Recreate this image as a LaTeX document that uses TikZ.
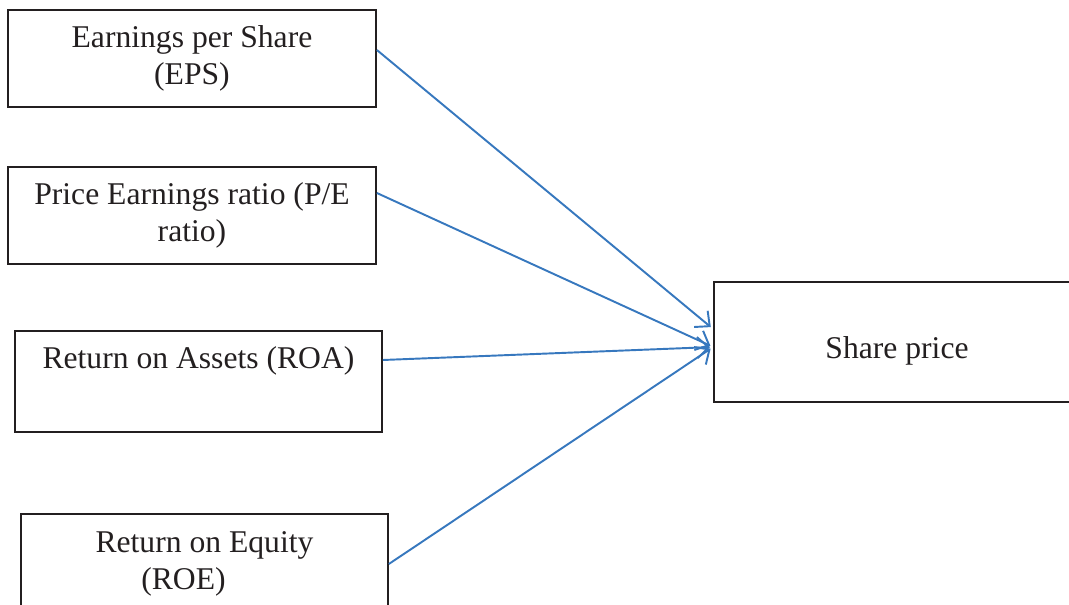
\documentclass[tikz,border=0pt]{standalone}
\usepackage{fontspec}
\setmainfont{Liberation Serif}
\usetikzlibrary{arrows.meta}
\definecolor{LinkBlue}{RGB}{55,120,190}
\definecolor{BoxLine}{RGB}{35,31,32}

\begin{document}
\begin{tikzpicture}[
    ratiobox/.style={draw=BoxLine, line width=1pt, minimum width=7.36cm, minimum height=1.94cm,
                     align=center, inner sep=0pt, text=BoxLine, font=\fontsize{18}{21}\selectfont},
    effect/.style={draw=LinkBlue, line width=1.1pt, -{Straight Barb[length=6.5pt,width=12pt]},
                   shorten >=0.06cm}
]
    \useasboundingbox (0,0) rectangle (21.38,-12.1);
    \node[ratiobox] (eps) at (3.84,-1.17) {Earnings per Share\\(EPS)};
    \node[ratiobox] (pe) at (3.84,-4.31) {Price Earnings ratio (P/E\\ratio)};
    \node[ratiobox, minimum width=7.34cm, minimum height=2.02cm] (roa) at (3.97,-7.63)
        {Return on Assets (ROA)\\\strut};
    \node[ratiobox, minimum width=7.34cm, minimum height=2cm] (roe) at (4.09,-11.28)
        {Return on Equity\\(ROE)\hspace*{0.84cm}};
    % text sits a little below the middle of this box
    \node[ratiobox, minimum width=7.32cm, minimum height=2.4cm] (price) at (17.94,-6.84)
        {\raisebox{-0.18cm}[\height][\depth]{Share price}};
    \draw[effect] ([yshift=0.17cm]eps.east) -- ([yshift=0.26cm]price.west);
    \draw[effect] ([yshift=0.45cm]pe.east) -- ([yshift=-0.1cm]price.west);
    \draw[effect] ([yshift=0.43cm]roa.east) -- ([yshift=-0.1cm]price.west);
    \draw[effect] (roe.east) -- ([yshift=-0.1cm]price.west);
\end{tikzpicture}
\end{document}
